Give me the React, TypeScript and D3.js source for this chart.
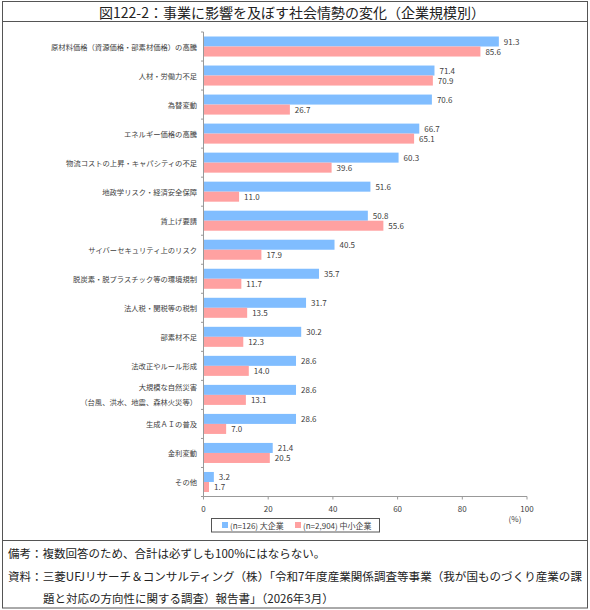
import { useEffect, useRef } from "react"
import * as d3 from "d3"

const categories = [
  "原材料価格（資源価格・部素材価格）の高騰",
  "人材・労働力不足",
  "為替変動",
  "エネルギー価格の高騰",
  "物流コストの上昇・キャパシティの不足",
  "地政学リスク・経済安全保障",
  "賃上げ要請",
  "サイバーセキュリティ上のリスク",
  "脱炭素・脱プラスチック等の環境規制",
  "法人税・関税等の税制",
  "部素材不足",
  "法改正やルール形成",
  "大規模な自然災害\n（台風、洪水、地震、森林火災等）",
  "生成ＡＩの普及",
  "金利変動",
  "その他",
]

const largeValues = [91.3, 71.4, 70.6, 66.7, 60.3, 51.6, 50.8, 40.5, 35.7, 31.7, 30.2, 28.6, 28.6, 28.6, 21.4, 3.2]
const smeValues = [85.6, 70.9, 26.7, 65.1, 39.6, 11.0, 55.6, 17.9, 11.7, 13.5, 12.3, 14.0, 13.1, 7.0, 20.5, 1.7]

const seriesNames = ["(n=126) 大企業", "(n=2,904) 中小企業"]
const xTicks = [0, 20, 40, 60, 80, 100]

const title = "図122-2：事業に影響を及ぼす社会情勢の変化（企業規模別）"
const notes = [
  "備考：複数回答のため、合計は必ずしも100%にはならない。",
  "資料：三菱UFJリサーチ＆コンサルティング（株）「令和7年度産業関係調査等事業（我が国ものづくり産業の課",
  "題と対応の方向性に関する調査）報告書」（2026年3月）",
]

const font = "'Noto Sans CJK JP', 'Noto Sans', sans-serif"

export default function App() {
  const svgRef = useRef<SVGSVGElement>(null)

  useEffect(() => {
    document.body.style.margin = "0"
    if (!svgRef.current) return
    const svg = d3.select(svgRef.current)
    svg.selectAll("*").remove()

    const width = 590
    const height = 610
    svg.attr("width", width).attr("height", height).style("font-family", font)

    svg.append("rect").attr("width", width).attr("height", height).attr("fill", "#fff")

    // frame
    svg.append("rect")
      .attr("x", 2.5).attr("y", 1.5).attr("width", 585).attr("height", 606.5)
      .attr("fill", "none").attr("stroke", "#555").attr("stroke-width", 1)
    svg.append("line").attr("x1", 2.5).attr("x2", 587.5).attr("y1", 21.5).attr("y2", 21.5)
      .attr("stroke", "#555")
    svg.append("line").attr("x1", 2.5).attr("x2", 587.5).attr("y1", 540.5).attr("y2", 540.5)
      .attr("stroke", "#555")

    svg.append("text")
      .attr("x", 292).attr("y", 12)
      .attr("text-anchor", "middle").attr("dominant-baseline", "central")
      .attr("font-size", 14).attr("fill", "#222")
      .text(title)

    const colors = ["#80bdff", "#ffa1a1"]
    const x = d3.scaleLinear().domain([0, 100]).range([203.5, 527])
    const y = d3.scaleBand<string>().domain(categories).range([32, 496.5]).paddingInner(0.31).paddingOuter(0.155)
    const ySub = d3.scaleBand<number>().domain([0, 1]).range([0, y.bandwidth()])

    const g = svg.append("g")

    // bars
    const series = [largeValues, smeValues]
    series.forEach((vals, si) => {
      g.selectAll(`.bar${si}`)
        .data(vals)
        .join("rect")
        .attr("x", x(0))
        .attr("y", (_, i) => (y(categories[i]) ?? 0) + (ySub(si) ?? 0))
        .attr("width", (d) => x(d) - x(0))
        .attr("height", ySub.bandwidth())
        .attr("fill", colors[si])

      g.selectAll(`.val${si}`)
        .data(vals)
        .join("text")
        .attr("x", (d) => x(d) + 5)
        .attr("y", (_, i) => (y(categories[i]) ?? 0) + (ySub(si) ?? 0) + ySub.bandwidth() / 2)
        .attr("dominant-baseline", "central")
        .attr("font-size", 8)
        .attr("fill", "#404040")
        .text((d) => d.toFixed(1))
    })

    // y axis
    g.append("line")
      .attr("x1", x(0)).attr("x2", x(0)).attr("y1", 32).attr("y2", 496.5)
      .attr("stroke", "#999")
    const bounds = d3.range(categories.length + 1).map((i) => 32 + i * y.step())
    g.selectAll(".ytick").data(bounds).join("line")
      .attr("x1", x(0) - 2.5).attr("x2", x(0))
      .attr("y1", (d) => d).attr("y2", (d) => d)
      .attr("stroke", "#999")

    categories.forEach((c) => {
      const cy = (y(c) ?? 0) + y.bandwidth() / 2
      const lines = c.split("\n")
      lines.forEach((ln, li) => {
        g.append("text")
          .attr("x", 197)
          .attr("y", cy + (li - (lines.length - 1) / 2) * 15)
          .attr("text-anchor", "end").attr("dominant-baseline", "central")
          .attr("font-size", 7.3).attr("fill", "#404040")
          .text(ln)
      })
    })

    // x axis
    g.append("line")
      .attr("x1", x(0)).attr("x2", x(100)).attr("y1", 496.5).attr("y2", 496.5)
      .attr("stroke", "#999")
    g.selectAll(".xtick").data(xTicks).join("line")
      .attr("x1", (d) => x(d)).attr("x2", (d) => x(d))
      .attr("y1", 496.5).attr("y2", 499.5)
      .attr("stroke", "#999")
    g.selectAll(".xlabel").data(xTicks).join("text")
      .attr("x", (d) => x(d)).attr("y", 508.5)
      .attr("text-anchor", "middle").attr("dominant-baseline", "central")
      .attr("font-size", 8).attr("fill", "#404040")
      .text((d) => d)
    g.append("text")
      .attr("x", 515).attr("y", 518.5)
      .attr("text-anchor", "middle").attr("dominant-baseline", "central")
      .attr("font-size", 8).attr("fill", "#404040")
      .text("(%)")

    // legend
    const lg = svg.append("g")
    lg.append("rect")
      .attr("x", 211.5).attr("y", 518.5).attr("width", 168).attr("height", 13.5)
      .attr("fill", "#fff").attr("stroke", "#555")
    const legendX = [222, 295]
    seriesNames.forEach((name, i) => {
      lg.append("rect")
        .attr("x", legendX[i]).attr("y", 522).attr("width", 6).attr("height", 6)
        .attr("fill", colors[i])
      lg.append("text")
        .attr("x", legendX[i] + 8).attr("y", 525.3)
        .attr("dominant-baseline", "central")
        .attr("font-size", 8).attr("fill", "#404040")
        .text(name)
    })

    // notes
    const noteY = [553, 575.5, 598]
    const noteX = [8, 8, 43]
    notes.forEach((n, i) => {
      const t = svg.append("text")
        .attr("x", noteX[i]).attr("y", noteY[i])
        .attr("dominant-baseline", "central")
        .attr("font-size", 11.5).attr("fill", "#222")
        .text(n)
      if (i === 1) t.attr("textLength", 574).attr("lengthAdjust", "spacingAndGlyphs")
    })
  }, [])

  return <svg ref={svgRef} style={{ display: "block" }} />
}
